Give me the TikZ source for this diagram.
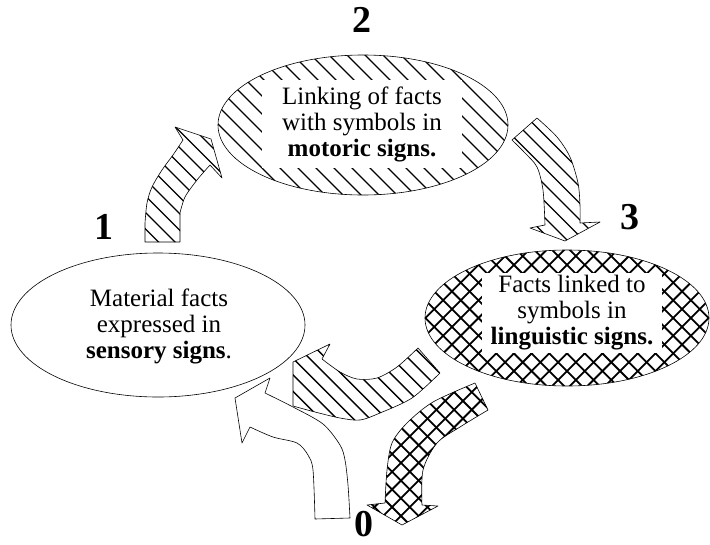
\documentclass[tikz,border=0pt]{standalone}
\usepackage{fontspec}
\setmainfont{Liberation Serif}
\usetikzlibrary{shapes.geometric}
\begin{document}
\begin{tikzpicture}[x=1pt,y=-1pt,
  outl/.style={draw=black, line width=0.6pt, line join=round, fill=white},
  hatchA/.style={outl, path picture={
     \foreach \k in {-25,...,25}
       \draw[line width=1.3pt] ([xshift=\k*#1]path picture bounding box.center) +(-250pt,250pt) -- +(250pt,-250pt);}},
  hatchA/.default=16.5pt,
  hatchX/.style={outl, path picture={
     \foreach \k in {-25,...,25}{
       \draw[line width=1.8pt] ([xshift=\k*17.7pt]path picture bounding box.center) +(-250pt,250pt) -- +(250pt,-250pt);
       \draw[line width=1.8pt] ([xshift=\k*17.7pt]path picture bounding box.center) +(-250pt,-250pt) -- +(250pt,250pt);}}},
  hollow/.style={outl},
  txt/.style={font=\fontsize{25}{26}\selectfont, align=center, inner sep=0pt},
  num/.style={font=\fontsize{38}{38}\selectfont\bfseries, inner sep=0pt}]
\path[use as bounding box, fill=white] (0,0) rectangle (710,544);

% ellipses
\node[ellipse, hollow, minimum width=294pt, minimum height=144pt, inner sep=0pt] (e1) at (158,325) {};
\node[ellipse, hatchA=18pt, minimum width=290pt, minimum height=140pt, inner sep=0pt] (e2) at (363,125) {};
\node[ellipse, hatchX, minimum width=284pt, minimum height=136pt, inner sep=0pt] (e3) at (567,318) {};

% texts
\node[txt] (t1) at (159,326) {Material facts\\expressed in\\\textbf{sensory signs}.};
\node[txt, fill=white, inner xsep=20pt, inner ysep=6pt] (t2) at (362,124) {Linking of facts\\with symbols in\\\textbf{motoric signs.}};
\node[txt, fill=white, inner xsep=9pt, inner ysep=3pt] (t3) at (572,313) {Facts linked to\\symbols in\\\textbf{linguistic signs.}};

% numbers
\node[num] (n1) at (104,227) {1};
\node[num] (n2) at (362,20) {2};
\node[num] (n3) at (630,217) {3};
\node[num] (n0) at (364,524) {0};

% arrow 1 -> 2
\path[hatchA] (145,242) -- (180,242)
  -- plot[smooth] coordinates {(180,213) (185,197) (197,180) (210,165)}
  -- (222,178) -- (211,139) -- (175,127)
  -- plot[smooth] coordinates {(183,140) (173,155) (162,170) (152,187) (147,203) (145,223)}
  -- cycle;

% arrow 2 -> 3
\path[hatchA] (512,140)
  -- plot[smooth] coordinates {(537,118) (557,137) (570,157) (578,183) (580,205) (580,223)}
  -- (600,222) -- (565,241) -- (530,228)
  -- plot[smooth] coordinates {(545,225) (543,190) (537,167) (525,153) (512,140)}
  -- cycle;

% middle hatched arrow (3 -> 1)
\path[hatchA] (293,362) -- (330,344)
  -- plot[smooth] coordinates {(322,359) (340,372) (357,379) (377,378) (397,367) (418,348)}
  -- plot[smooth] coordinates {(440,373) (412,398) (380,413) (360,420) (340,418) (315,412) (293,406)}
  -- cycle;

% white arrow (0 -> 1)
\path[hollow] (315,519)
  -- plot[smooth] coordinates {(350,518) (348,485) (345,460) (340,445) (323,424) (293,407) (265,393)}
  -- (270,378) -- (235,398) -- (242,443)
  -- plot[smooth] coordinates {(250,427) (273,437) (297,443) (308,455) (313,470) (315,519)}
  -- cycle;

% cross-hatched arrow (3 -> 0)
\path[hatchX] (475,383)
  -- plot[smooth] coordinates {(488,410) (460,427) (437,443) (423,470) (422,505)}
  -- (438,506) -- (402,525) -- (367,505)
  -- plot[smooth] coordinates {(385,503) (387,470) (392,443) (407,423) (433,402) (475,383)}
  -- cycle;
\end{tikzpicture}
\end{document}
